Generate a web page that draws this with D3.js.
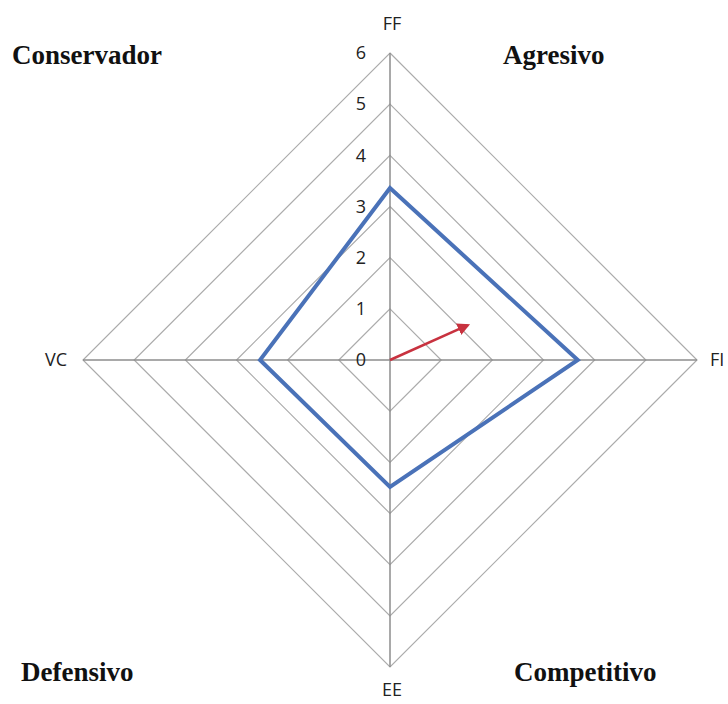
<!DOCTYPE html>
<html>
<head>
<meta charset="utf-8">
<script src="https://cdn.jsdelivr.net/npm/d3@7"></script>
<style>
  body { margin: 0; background: #fff; }
  .quad { font-family: "Liberation Serif", serif; font-weight: bold; font-size: 27px; fill: #111; }
  .axlab, .tick { font-family: "Open Sans", sans-serif; font-size: 18px; fill: #222; }
</style>
</head>
<body>
<script>
// axes of the radar, clockwise from the top
var axes = ["FF", "FI", "EE", "VC"];
var values = [3.36, 3.67, 2.48, 2.54];
var ticks = [0, 1, 2, 3, 4, 5, 6];
// resultant vector (x along FI, y along FF)
var arrowVec = [1.52, 0.68];
var quadrants = ["Conservador", "Agresivo", "Defensivo", "Competitivo"];

var width = 728, height = 704,
	cx = 390, cy = 360;

var r = d3.scaleLinear().domain([0, 6]).range([0, 307]);
var angle = d3.scalePoint().domain(axes).range([0, 2 * Math.PI * 3 / 4]);

function pt(name, v) {
	var a = angle(name);
	return [cx + Math.sin(a) * r(v), cy - Math.cos(a) * r(v)];
}

var svg = d3.select("body").append("svg")
	.attr("width", width)
	.attr("height", height);

svg.append("defs").append("marker")
	.attr("id", "head")
	.attr("viewBox", "0 0 10 10")
	.attr("refX", 8).attr("refY", 5)
	.attr("markerWidth", 5).attr("markerHeight", 5)
	.attr("orient", "auto")
	.append("path")
	.attr("d", "M0,0L10,5L0,10z")
	.style("fill", "#c8323f");

// grid rings
var ring = d3.line();
svg.append("g").selectAll("path")
	.data(ticks.slice(1))
	.enter().append("path")
	.attr("d", t => ring(axes.map(a => pt(a, t))) + "Z")
	.style("fill", "none")
	.style("stroke", "#ababab")
	.style("stroke-width", 1.2);

// spokes
svg.append("g").selectAll("line")
	.data(axes)
	.enter().append("line")
	.attr("x1", cx).attr("y1", cy)
	.attr("x2", a => pt(a, 6)[0])
	.attr("y2", a => pt(a, 6)[1])
	.style("stroke", "#8c8c8c")
	.style("stroke-width", 1.5);

// tick labels along FF
svg.append("g").selectAll("text")
	.data(ticks)
	.enter().append("text")
	.attr("class", "tick")
	.attr("x", cx - 24)
	.attr("y", t => pt("FF", t)[1])
	.attr("dy", "0.35em")
	.attr("text-anchor", "end")
	.text(t => t);

// axis names
var labOff = { FF: [2, -29], FI: [13, 0], EE: [2, 23], VC: [-16, 0] };
var labAnchor = { FF: "middle", FI: "start", EE: "middle", VC: "end" };
svg.append("g").selectAll("text")
	.data(axes)
	.enter().append("text")
	.attr("class", "axlab")
	.attr("x", a => pt(a, 6)[0] + labOff[a][0])
	.attr("y", a => pt(a, 6)[1] + labOff[a][1])
	.attr("dy", "0.35em")
	.attr("text-anchor", a => labAnchor[a])
	.text(a => a);

// series
svg.append("path")
	.attr("d", ring(axes.map((a, i) => pt(a, values[i]))) + "Z")
	.style("fill", "none")
	.style("stroke", "#4a72b8")
	.style("stroke-width", 4)
	.style("stroke-linejoin", "miter");

// arrow
var ax = d3.scaleLinear().domain([0, 6]).range([cx, cx + 307]);
var ay = d3.scaleLinear().domain([0, 6]).range([cy, cy - 307]);
svg.append("line")
	.attr("x1", ax(0)).attr("y1", ay(0))
	.attr("x2", ax(arrowVec[0])).attr("y2", ay(arrowVec[1]))
	.attr("marker-end", "url(#head)")
	.style("stroke", "#c8323f")
	.style("stroke-width", 2.5);

// quadrant names
var qPos = [[12, 64, "start"], [503, 64, "start"], [21, 681, "start"], [514, 681, "start"]];
svg.append("g").selectAll("text")
	.data(quadrants)
	.enter().append("text")
	.attr("class", "quad")
	.attr("x", (q, i) => qPos[i][0])
	.attr("y", (q, i) => qPos[i][1])
	.text(q => q);
</script>
</body>
</html>
